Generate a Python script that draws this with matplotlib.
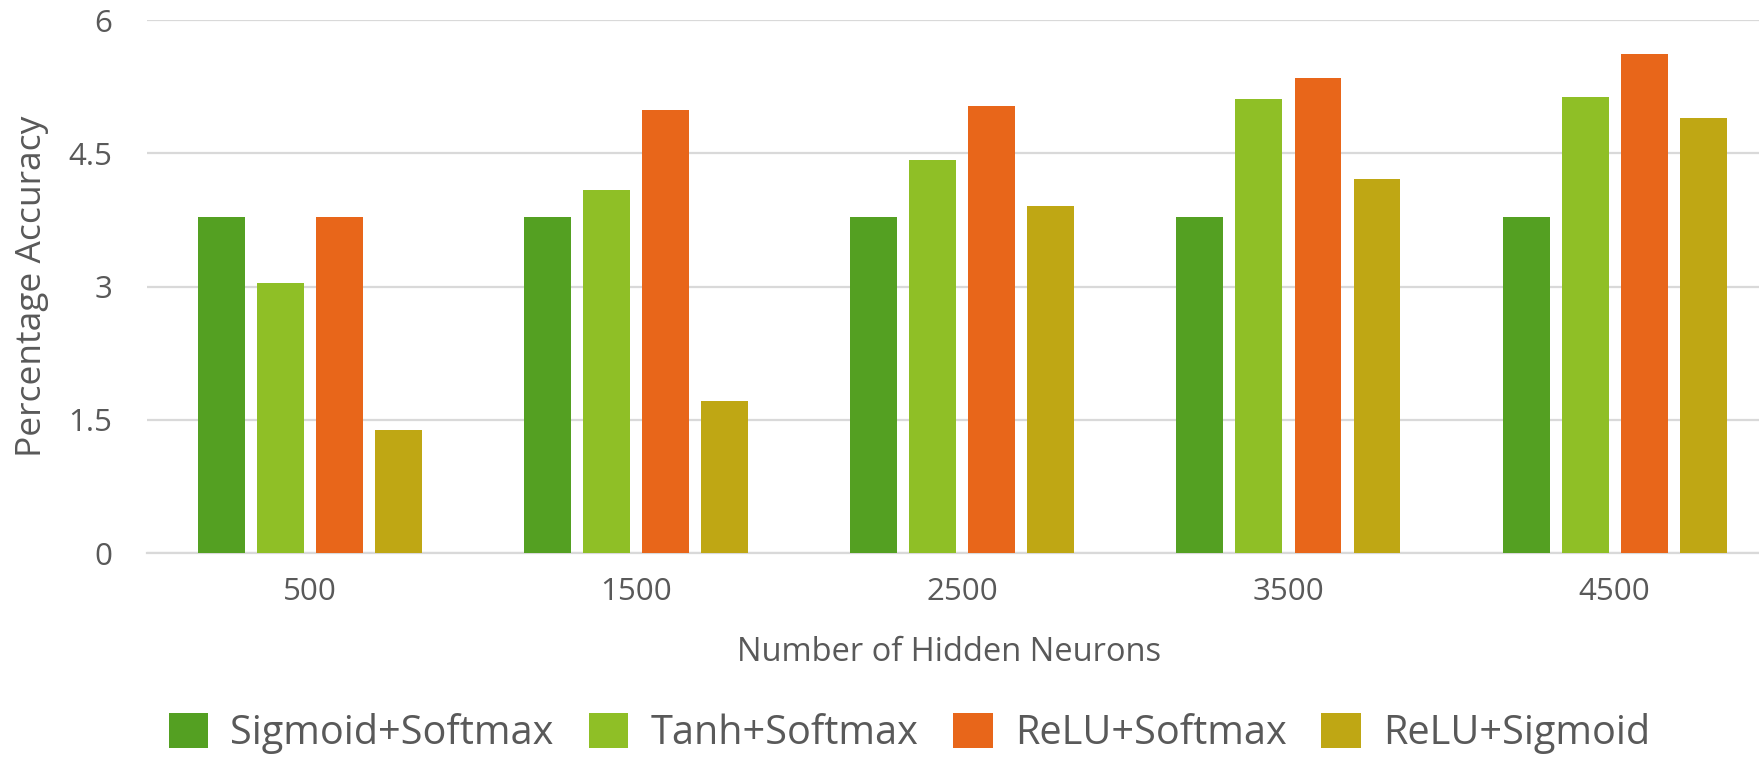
import numpy as np
import matplotlib.pyplot as plt
from matplotlib.patches import Patch

# values
neurons = ['500', '1500', '2500', '3500', '4500']
sigmoid_softmax = [3.78, 3.78, 3.78, 3.78, 3.78]
tanh_softmax = [3.04, 4.09, 4.42, 5.11, 5.14]
relu_softmax = [3.78, 4.99, 5.03, 5.35, 5.62]
relu_sigmoid = [1.39, 1.71, 3.91, 4.21, 4.90]

series_names = ['Sigmoid+Softmax', 'Tanh+Softmax', 'ReLU+Softmax', 'ReLU+Sigmoid']
colors = ['#54A022', '#8FBF26', '#E8661A', '#BFA714']

plt.rcParams['font.family'] = ['Open Sans', 'DejaVu Sans']
text_color = '#595959'
grid_color = '#D9D9D9'

fig = plt.figure(figsize=(17.59, 7.59), dpi=100)
# axes run a little past the right edge, like the cropped original
ax = fig.add_axes([0.0836, 0.2714, 0.927, 0.702])

x = np.arange(len(neurons))
pitch = 0.181
width = 0.144
all_series = [sigmoid_softmax, tanh_softmax, relu_softmax, relu_sigmoid]
for i, vals in enumerate(all_series):
    ax.bar(x + (i - 1.5) * pitch, vals, width, color=colors[i], zorder=3)

ax.set_xlim(-0.5, len(neurons) - 0.5)
ax.set_ylim(0, 6)
ax.set_yticks([0, 1.5, 3, 4.5, 6])
ax.set_yticklabels(['0', '1.5', '3', '4.5', '6'])
ax.set_xticks(x)
ax.set_xticklabels(neurons)

ax.grid(axis='y', color=grid_color, linewidth=1.6, zorder=0)
for side in ['top', 'right', 'left']:
    ax.spines[side].set_visible(False)
ax.spines['bottom'].set_color(grid_color)
ax.spines['bottom'].set_linewidth(1.6)
ax.tick_params(axis='both', length=0, labelsize=22.5, colors=text_color)
ax.tick_params(axis='y', pad=25)
ax.tick_params(axis='x', pad=17)

ax.set_ylabel('Percentage Accuracy', fontsize=25.5, color=text_color, labelpad=14)
ax.set_xlabel('Number of Hidden Neurons', fontsize=23.5, color=text_color, labelpad=21)
ax.xaxis.label.set_x(0.492)

handles = [Patch(facecolor=c) for c in colors]
fig.legend(handles, series_names, loc='center', bbox_to_anchor=(0.517, 0.034),
           ncol=4, frameon=False, fontsize=28.5, labelcolor=text_color,
           handlelength=1.0, handleheight=1.0, handletextpad=0.56,
           columnspacing=0.88, borderpad=0.1)

fig.savefig('out.png', dpi=100)
